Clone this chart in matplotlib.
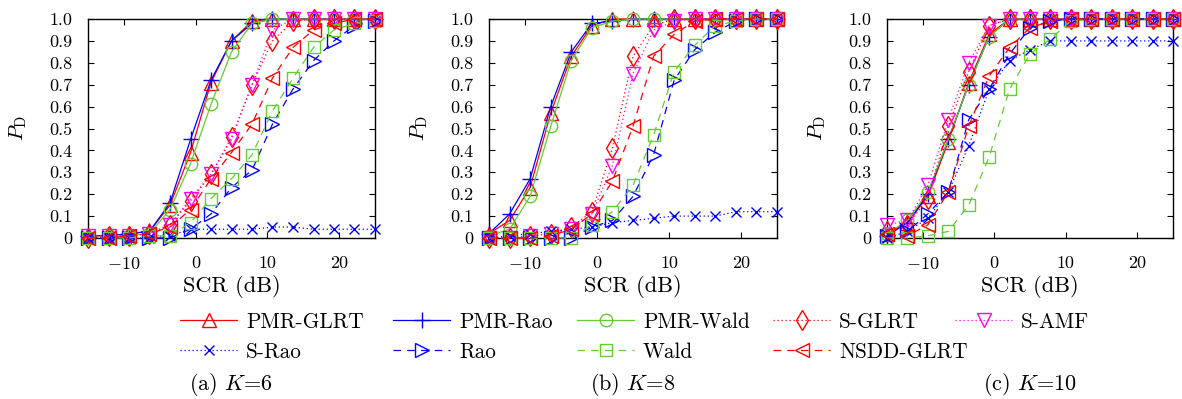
import matplotlib
matplotlib.use('Agg')
import matplotlib.pyplot as plt
from matplotlib.lines import Line2D

plt.rcParams['font.family'] = 'serif'
plt.rcParams['font.serif'] = ['cmr10']
plt.rcParams['mathtext.fontset'] = 'cm'
plt.rcParams['axes.formatter.use_mathtext'] = True

# ---------------- data ----------------
scr = [-15, -12.14, -9.29, -6.43, -3.57, -0.71, 2.14, 5.0, 7.86, 10.71, 13.57, 16.43, 19.29, 22.14, 25.0]

# (a) K=6
a_pmr_glrt = [0.01, 0.01, 0.02, 0.03, 0.15, 0.39, 0.71, 0.90, 0.99, 1, 1, 1, 1, 1, 1]
a_pmr_rao  = [0.01, 0.01, 0.02, 0.03, 0.16, 0.45, 0.72, 0.90, 0.98, 1, 1, 1, 1, 1, 1]
a_pmr_wald = [0.00, 0.01, 0.01, 0.02, 0.13, 0.34, 0.61, 0.85, 0.98, 1, 1, 1, 1, 1, 1]
a_s_glrt   = [0.00, 0.01, 0.01, 0.02, 0.06, 0.17, 0.29, 0.46, 0.70, 0.90, 0.99, 1, 1, 1, 1]
a_s_amf    = [0.01, 0.01, 0.01, 0.02, 0.06, 0.18, 0.29, 0.45, 0.70, 0.95, 1, 1, 1, 1, 1]
a_s_rao    = [0.00, 0.00, 0.00, 0.00, 0.01, 0.04, 0.04, 0.04, 0.04, 0.05, 0.05, 0.04, 0.04, 0.04, 0.04]
a_rao      = [0.00, 0.00, 0.00, 0.00, 0.00, 0.04, 0.11, 0.23, 0.31, 0.52, 0.68, 0.81, 0.90, 0.97, 0.99]
a_wald     = [0.00, 0.00, 0.00, 0.01, 0.01, 0.07, 0.18, 0.27, 0.38, 0.58, 0.73, 0.87, 0.95, 0.98, 0.99]
a_nsdd     = [0.00, 0.00, 0.01, 0.02, 0.05, 0.13, 0.27, 0.39, 0.52, 0.73, 0.87, 0.95, 0.98, 1, 1]

# (b) K=8
b_pmr_glrt = [0.02, 0.08, 0.23, 0.57, 0.83, 0.97, 1, 1, 1, 1, 1, 1, 1, 1, 1]
b_pmr_rao  = [0.02, 0.11, 0.27, 0.60, 0.85, 0.98, 0.99, 1, 1, 1, 1, 1, 1, 1, 1]
b_pmr_wald = [0.01, 0.04, 0.19, 0.51, 0.81, 0.96, 0.99, 1, 1, 1, 1, 1, 1, 1, 1]
b_s_glrt   = [0.00, 0.00, 0.01, 0.02, 0.05, 0.12, 0.41, 0.83, 0.97, 1, 1, 1, 1, 1, 1]
b_s_amf    = [0.00, 0.00, 0.01, 0.02, 0.04, 0.11, 0.33, 0.75, 0.95, 0.99, 1, 1, 1, 1, 1]
b_s_rao    = [0.00, 0.01, 0.02, 0.03, 0.04, 0.05, 0.07, 0.08, 0.09, 0.10, 0.10, 0.10, 0.12, 0.12, 0.12]
b_rao      = [0.00, 0.00, 0.00, 0.00, 0.00, 0.05, 0.08, 0.19, 0.38, 0.72, 0.86, 0.94, 0.99, 1, 1]
b_wald     = [0.00, 0.00, 0.00, 0.00, 0.00, 0.06, 0.12, 0.24, 0.47, 0.76, 0.88, 0.97, 0.99, 1, 1]
b_nsdd     = [0.00, 0.00, 0.00, 0.01, 0.04, 0.11, 0.26, 0.51, 0.83, 0.93, 0.99, 1, 1, 1, 1]

# (c) K=10
c_pmr_glrt = [0.02, 0.07, 0.19, 0.44, 0.71, 0.93, 1, 1, 1, 1, 1, 1, 1, 1, 1]
c_pmr_rao  = [0.01, 0.07, 0.20, 0.45, 0.70, 0.92, 1, 1, 1, 1, 1, 1, 1, 1, 1]
c_pmr_wald = [0.02, 0.08, 0.21, 0.45, 0.70, 0.92, 1, 1, 1, 1, 1, 1, 1, 1, 1]
c_s_glrt   = [0.03, 0.06, 0.18, 0.51, 0.76, 0.97, 1, 1, 1, 1, 1, 1, 1, 1, 1]
c_s_amf    = [0.06, 0.08, 0.24, 0.54, 0.80, 0.97, 1, 1, 1, 1, 1, 1, 1, 1, 1]
c_s_rao    = [0.00, 0.03, 0.09, 0.21, 0.42, 0.68, 0.81, 0.86, 0.90, 0.90, 0.90, 0.90, 0.90, 0.90, 0.90]
c_rao      = [0.01, 0.03, 0.11, 0.21, 0.54, 0.68, 0.84, 0.96, 0.99, 1, 1, 1, 1, 1, 1]
c_wald     = [0.00, 0.00, 0.01, 0.03, 0.15, 0.37, 0.68, 0.84, 0.91, 0.99, 1, 1, 1, 1, 1]
c_nsdd     = [0.02, 0.01, 0.06, 0.21, 0.51, 0.74, 0.87, 0.96, 0.99, 1, 1, 1, 1, 1, 1]

method_names = ['PMR-GLRT', 'PMR-Rao', 'PMR-Wald', 'S-GLRT', 'S-AMF', 'S-Rao', 'Rao', 'Wald', 'NSDD-GLRT']
panel_captions = ['(a) $K$=6', '(b) $K$=8', '(c) $K$=10']
x_ticks = [-10, 0, 10, 20]
x_ticklabels = ['$-10$', '0', '10', '20']
y_ticks = [0, 0.1, 0.2, 0.3, 0.4, 0.5, 0.6, 0.7, 0.8, 0.9, 1.0]
y_ticklabels = ['0', '0.1', '0.2', '0.3', '0.4', '0.5', '0.6', '0.7', '0.8', '0.9', '1.0']

panels = [
    [a_pmr_glrt, a_pmr_rao, a_pmr_wald, a_s_glrt, a_s_amf, a_s_rao, a_rao, a_wald, a_nsdd],
    [b_pmr_glrt, b_pmr_rao, b_pmr_wald, b_s_glrt, b_s_amf, b_s_rao, b_rao, b_wald, b_nsdd],
    [c_pmr_glrt, c_pmr_rao, c_pmr_wald, c_s_glrt, c_s_amf, c_s_rao, c_rao, c_wald, c_nsdd],
]

# ---------------- styles ----------------
RED, BLUE, GREEN, MAG = '#ff0000', '#0000ff', '#66cc33', '#ff00ff'
DOT = (0, (1, 2.2))
DASH = (0, (6, 5))
styles = [
    dict(color=RED, ls='-', marker='^', ms=10),
    dict(color=BLUE, ls='-', marker='+', ms=11),
    dict(color=GREEN, ls='-', marker='o', ms=9),
    dict(color=RED, ls=DOT, marker='d', ms=10),
    dict(color=MAG, ls=DOT, marker='v', ms=10),
    dict(color=BLUE, ls=DOT, marker='x', ms=7),
    dict(color=BLUE, ls=DASH, marker='>', ms=10),
    dict(color=GREEN, ls=DASH, marker='s', ms=8),
    dict(color=RED, ls=DASH, marker='<', ms=10),
]

W, H = 1182, 399
fig = plt.figure(figsize=(W / 100, H / 100), dpi=100)

ax_px = [(88, 375), (489, 777), (887, 1173)]
top_px, bot_px = 19, 238

for i, (l, r) in enumerate(ax_px):
    ax = fig.add_axes([l / W, 1 - bot_px / H, (r - l) / W, (bot_px - top_px) / H])
    for series, st in zip(panels[i], styles):
        ax.plot(scr, series, color=st['color'], linestyle=st['ls'], marker=st['marker'],
                markersize=st['ms'], markerfacecolor='none', markeredgewidth=1.0,
                linewidth=0.9, clip_on=False, zorder=3)
    ax.set_xlim(-15, 25)
    ax.set_ylim(0, 1.0)
    ax.set_xticks(x_ticks)
    ax.set_xticklabels(x_ticklabels)
    ax.set_yticks(y_ticks)
    ax.set_yticklabels(y_ticklabels)
    ax.tick_params(direction='in', top=True, right=True, length=4, width=0.8,
                   labelsize=13)
    ax.tick_params(axis='x', pad=13)
    ax.tick_params(axis='y', pad=11)
    for sp in ax.spines.values():
        sp.set_linewidth(1.0)
    ax.set_xlabel('SCR (dB)', fontsize=16, labelpad=2)
    ax.set_ylabel(r'$P_\mathrm{D}$', fontsize=15)
    ax.yaxis.set_label_coords(-59 / (r - l), 0.5)
    fig.text((l + r) / 2 / W, 1 - 384 / H, panel_captions[i], ha='center', va='center', fontsize=16)

# ---------------- legend (5 columns, 2 rows) ----------------
handles = [Line2D([], [], color=st['color'], linestyle=st['ls'], marker=st['marker'],
                  markersize=st['ms'], markerfacecolor='none', markeredgewidth=1.0, linewidth=0.9)
           for st in styles]
col_x = [180, 393, 577, 773, 955]
columns = [[0, 5], [1, 6], [2, 7], [3, 8], [4]]
for cx, idxs in zip(col_x, columns):
    fig.legend([handles[k] for k in idxs], [method_names[k] for k in idxs],
               loc='upper left', bbox_to_anchor=(cx / W, 1 - 312 / H),
               frameon=False, fontsize=15.3, handlelength=2.7, handletextpad=0.4,
               borderpad=0, borderaxespad=0, labelspacing=0.5, numpoints=1)

fig.savefig('out.png', dpi=100)
